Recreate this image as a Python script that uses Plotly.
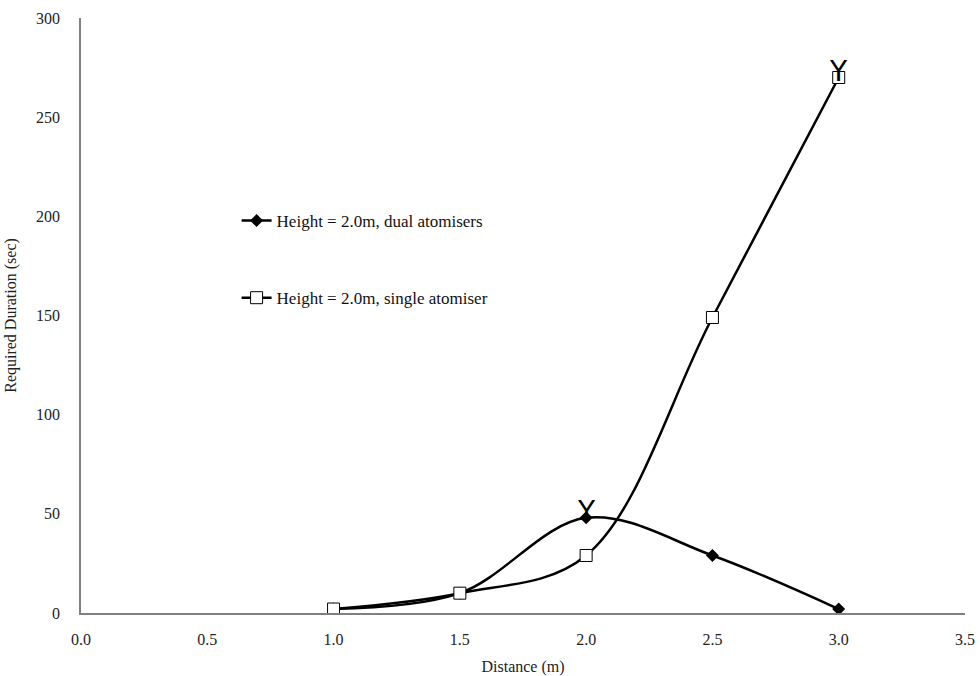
import plotly.graph_objects as go

distance = [1.0, 1.5, 2.0, 2.5, 3.0]
dual = [2, 10, 48, 29, 2]
single = [2, 10, 29, 149, 270]
x_ticks = [0.0, 0.5, 1.0, 1.5, 2.0, 2.5, 3.0, 3.5]
y_ticks = [0, 50, 100, 150, 200, 250, 300]
# points carrying the "Y" marks
mark_x = [2.0, 3.0]
mark_y = [dual[2], single[4]]

FONT = "Liberation Serif"

fig = go.Figure()
fig.add_trace(go.Scatter(
    x=distance, y=dual, mode="lines+markers",
    name="Height = 2.0m, dual atomisers",
    line=dict(color="black", width=2.5, shape="spline", smoothing=1.0),
    marker=dict(symbol="diamond", size=10, color="black"),
    legendgroup="g1",
))
fig.add_trace(go.Scatter(
    x=distance, y=single, mode="lines+markers",
    name="Height = 2.0m, single atomiser",
    line=dict(color="black", width=2.5, shape="spline", smoothing=1.0),
    marker=dict(symbol="square", size=12, color="white", line=dict(color="black", width=1)),
    legendgroup="g2",
))
for mx, my in zip(mark_x, mark_y):
    fig.add_annotation(x=mx, y=my, text="Y", showarrow=False, yshift=6,
                       font=dict(family="DejaVu Sans", size=28, color="black"))

fig.update_layout(
    width=980, height=676,
    margin=dict(l=81, r=15, t=18, b=63),
    paper_bgcolor="white", plot_bgcolor="white",
    font=dict(family=FONT, size=16, color="#222"),
    showlegend=True,
    legend=dict(x=0.176, y=0.689, xanchor="left", yanchor="top",
                tracegroupgap=52, traceorder="grouped",
                bgcolor="rgba(0,0,0,0)", font=dict(family=FONT, size=17, color="#111")),
)
fig.update_xaxes(
    range=[0, 3.5], tickvals=x_ticks, ticktext=[f"{v:.1f}" for v in x_ticks],
    showgrid=False, zeroline=False, showline=True, linecolor="#808080", linewidth=1.5,
    ticks="outside", ticklen=11, tickcolor="rgba(0,0,0,0)", automargin=False,
    title=dict(text="Distance (m)", font=dict(family=FONT, size=16)),
    tickfont=dict(family=FONT, size=16),
)
fig.update_yaxes(
    range=[0, 300], tickvals=y_ticks,
    showgrid=False, zeroline=False, showline=True, linecolor="#808080", linewidth=1.5,
    ticks="outside", ticklen=16, tickcolor="rgba(0,0,0,0)", automargin=False,
    title=dict(text="Required Duration (sec)", font=dict(family=FONT, size=16)),
    tickfont=dict(family=FONT, size=16),
)

fig.write_html("out.html")
